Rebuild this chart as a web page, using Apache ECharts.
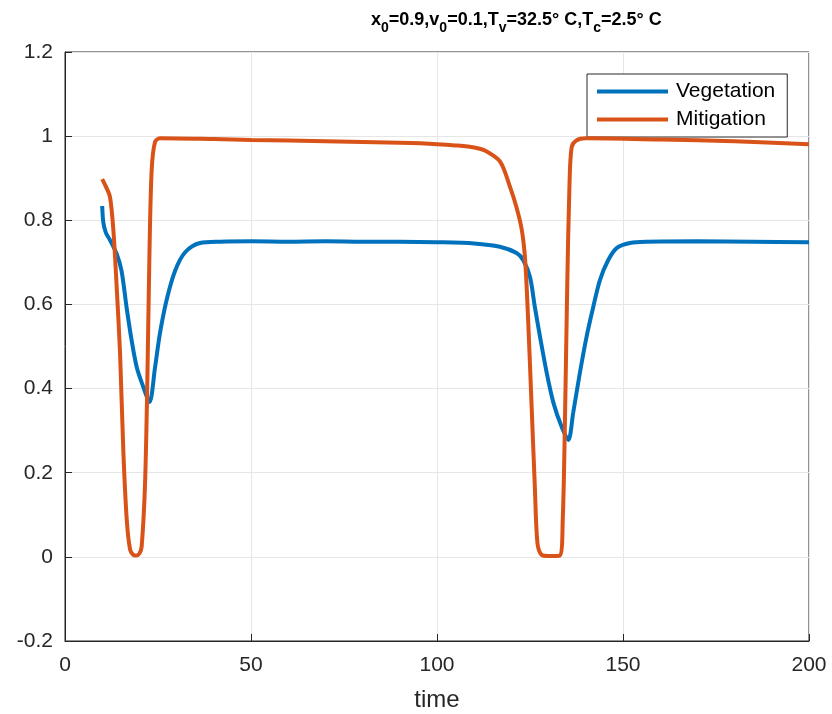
<!DOCTYPE html>
<html><head><meta charset="utf-8">
<script src="https://cdn.jsdelivr.net/npm/echarts@6/dist/echarts.min.js"></script>
<style>html,body{margin:0;padding:0;background:#fff}#c{width:832px;height:714px}</style>
</head><body><div id="c"></div>
<script>
const xTicks = [0, 50, 100, 150, 200];
const yTicks = [-0.2, 0, 0.2, 0.4, 0.6, 0.8, 1, 1.2];
const seriesNames = ['Vegetation', 'Mitigation'];

const vegT = [10, 10.3, 11, 12.1, 13.9, 15.2, 16.6, 17.9, 19.3, 21, 22.7, 24.2, 25.5, 27.3, 29.6, 32.3, 36.3, 41.7, 50, 60, 70, 80, 90, 100, 110, 116.9, 121.4, 123.2, 125, 126.3, 127.7, 129.5, 131.3, 133.5, 135.3, 136.6, 138.4, 140.2, 142, 143.8, 146, 148.3, 151.9, 156.4, 170, 185, 200];
const vegY = [0.834, 0.795, 0.77, 0.753, 0.72, 0.68, 0.59, 0.515, 0.45, 0.405, 0.368, 0.45, 0.53, 0.61, 0.68, 0.724, 0.746, 0.749, 0.75, 0.749, 0.75, 0.749, 0.749, 0.748, 0.745, 0.737, 0.722, 0.705, 0.665, 0.594, 0.523, 0.437, 0.366, 0.309, 0.278, 0.342, 0.437, 0.523, 0.594, 0.658, 0.705, 0.734, 0.746, 0.749, 0.75, 0.749, 0.748];

const mitT = [10, 11, 12.1, 13, 13.9, 14.8, 15.7, 16.6, 17.5, 18.3, 19.1, 20, 20.6, 21.5, 22.1, 22.7, 23.3, 24.2, 25.5, 40, 50, 70, 90, 100, 105, 110, 113, 117, 119.6, 121.4, 122.8, 123.7, 124.5, 125.4, 126.3, 127, 128.1, 130, 133, 133.8, 134.4, 135, 135.6, 136.2, 137.5, 140, 160, 180, 200];
const mitY = [0.898, 0.88, 0.855, 0.777, 0.64, 0.484, 0.247, 0.088, 0.017, 0.005, 0.003, 0.008, 0.024, 0.17, 0.40, 0.72, 0.92, 0.986, 0.995, 0.993, 0.991, 0.988, 0.984, 0.981, 0.978, 0.973, 0.965, 0.939, 0.88, 0.83, 0.777, 0.705, 0.563, 0.366, 0.167, 0.033, 0.005, 0.002, 0.003, 0.088, 0.325, 0.64, 0.88, 0.974, 0.99, 0.995, 0.992, 0.988, 0.981];

const zip = (a, b) => a.map((v, i) => [v, b[i]]);
const font = 'Helvetica, "Liberation Sans", Arial, sans-serif';
const chart = echarts.init(document.getElementById('c'));
const axisCommon = {
  axisLine: { show: true, onZero: false, lineStyle: { color: '#262626', width: 1 } },
  axisTick: { show: true, inside: true, length: 7, lineStyle: { color: '#262626' } },
  splitLine: { show: true, lineStyle: { color: '#e6e6e6', width: 1 } },
  axisLabel: { color: '#262626', fontSize: 21, fontFamily: font }
};
chart.setOption({
  animation: false,
  backgroundColor: '#fff',
  title: {
    text: '{m|x}{s|0}{m|=0.9,v}{s|0}{m|=0.1,T}{s|v}{m|=32.5° C,T}{s|c}{m|=2.5° C}',
    left: 366, top: 6,
    textStyle: {
      rich: {
        m: { fontSize: 18, fontWeight: 'bold', color: '#000', fontFamily: font, lineHeight: 22, verticalAlign: 'top' },
        s: { fontSize: 14, fontWeight: 'bold', color: '#000', fontFamily: font, lineHeight: 22, verticalAlign: 'top', padding: [10, 0, 0, 0] }
      }
    }
  },
  legend: {
    data: seriesNames,
    orient: 'vertical',
    left: 587, top: 74,
    itemWidth: 71, itemHeight: 4, itemGap: 7,
    padding: [7, 12, 7, 10],
    borderColor: '#262626', borderWidth: 1, backgroundColor: '#fff',
    icon: 'rect',
    textStyle: { color: '#000', fontSize: 21, fontFamily: font, padding: [0, 0, 0, 3] }
  },
  grid: { left: 65, right: 23, top: 52, bottom: 73, containLabel: false, outerBoundsMode: 'none' },
  xAxis: Object.assign({}, axisCommon, {
    type: 'value', min: 0, max: 200, interval: 50,
    name: 'time', nameLocation: 'middle', nameGap: 47,
    nameTextStyle: { color: '#262626', fontSize: 24, fontFamily: font },
    axisLabel: Object.assign({}, axisCommon.axisLabel, { margin: 14, formatter: v => xTicks.includes(v) ? String(v) : '' })
  }),
  yAxis: Object.assign({}, axisCommon, {
    type: 'value', min: -0.2, max: 1.2, interval: 0.2,
    axisLabel: Object.assign({}, axisCommon.axisLabel, { margin: 12, formatter: v => {
      const t = yTicks.find(x => Math.abs(x - v) < 1e-9); return t === undefined ? '' : String(t);
    } })
  }),
  graphic: [{
    type: 'rect', shape: { x: 65, y: 52, width: 744, height: 589 },
    style: { fill: 'none', stroke: '#262626', lineWidth: 1 }, silent: true, z: 0
  }],
  series: [
    { name: seriesNames[0], type: 'line', data: zip(vegT, vegY), showSymbol: false, smooth: 0.3,
      lineStyle: { color: '#0072BD', width: 4 }, itemStyle: { color: '#0072BD' }, z: 3 },
    { name: seriesNames[1], type: 'line', data: zip(mitT, mitY), showSymbol: false, smooth: 0.3,
      lineStyle: { color: '#D95319', width: 4 }, itemStyle: { color: '#D95319' }, z: 4 }
  ]
});
</script></body></html>
